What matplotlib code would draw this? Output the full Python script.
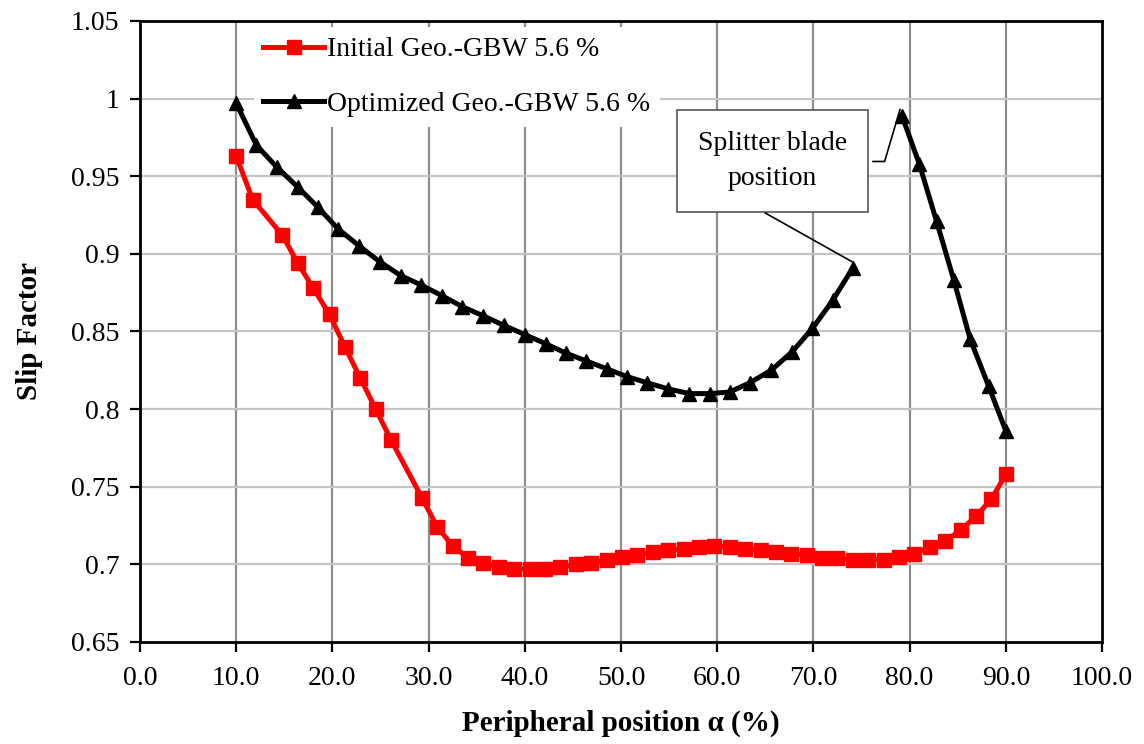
import matplotlib.pyplot as plt
import numpy as np

plt.rcParams["font.family"] = ["Liberation Serif", "DejaVu Serif"]

# Slip factor along the periphery, initial geometry
initial_pos = [
    10.0, 11.7, 14.8, 16.4, 18.0, 19.7, 21.3, 22.9, 24.5, 26.1,
    29.3, 30.9, 32.5, 34.1, 35.7, 37.3, 38.9, 40.5, 42.1, 43.7,
    45.3, 46.9, 48.5, 50.1, 51.7, 53.3, 54.9, 56.5, 58.1, 59.7,
    61.3, 62.9, 64.5, 66.1, 67.7, 69.3, 70.9, 72.5, 74.1, 75.7,
    77.3, 78.9, 80.5, 82.1, 83.7, 85.3, 86.9, 88.5, 90.0,
]
initial_slip = [
    0.963, 0.935, 0.912, 0.894, 0.878, 0.861, 0.840, 0.820, 0.800, 0.780,
    0.743, 0.724, 0.712, 0.704, 0.701, 0.698, 0.697, 0.697, 0.697, 0.698,
    0.700, 0.701, 0.703, 0.705, 0.706, 0.708, 0.709, 0.710, 0.711, 0.712,
    0.711, 0.710, 0.709, 0.708, 0.707, 0.706, 0.704, 0.704, 0.703, 0.703,
    0.703, 0.705, 0.707, 0.711, 0.715, 0.722, 0.731, 0.742, 0.758,
]

# Optimized geometry: main blade up to the splitter, then the splitter passage
optimized_pos = [
    10.0, 12.1, 14.2, 16.4, 18.5, 20.6, 22.8, 24.9, 27.1, 29.2,
    31.4, 33.5, 35.7, 37.8, 40.0, 42.2, 44.3, 46.4, 48.5, 50.6,
    52.7, 54.9, 57.1, 59.2, 61.3, 63.4, 65.6, 67.8, 69.9, 72.0,
    74.1, np.nan, 79.2, 81.0, 82.8, 84.6, 86.3, 88.2, 90.0,
]
optimized_slip = [
    0.997, 0.970, 0.956, 0.943, 0.930, 0.916, 0.905, 0.895, 0.886, 0.880,
    0.873, 0.866, 0.860, 0.854, 0.848, 0.842, 0.836, 0.831, 0.826, 0.821,
    0.817, 0.813, 0.810, 0.810, 0.811, 0.817, 0.825, 0.837, 0.852, 0.870,
    0.891, np.nan, 0.989, 0.958, 0.921, 0.883, 0.845, 0.815, 0.786,
]

x_ticks = np.arange(0, 101, 10)
y_ticks = [0.65, 0.7, 0.75, 0.8, 0.85, 0.9, 0.95, 1, 1.05]
y_tick_labels = ["0.65", "0.7", "0.75", "0.8", "0.85", "0.9", "0.95", "1", "1.05"]

fig = plt.figure(figsize=(11.44, 7.44), dpi=100)
ax = fig.add_axes([0.1224, 0.1371, 0.8409, 0.8347])

for v in x_ticks[1:-1]:
    ax.axvline(v, color="#8c8c8c", lw=1.6, zorder=1)
for v in y_ticks[1:-1]:
    ax.axhline(v, color="#c4c4c4", lw=1.6, zorder=1)

ax.plot(
    initial_pos, initial_slip,
    color="#ff0000", lw=3.6, marker="s", markersize=10,
    label="Initial Geo.-GBW 5.6 %", zorder=3,
)
ax.plot(
    optimized_pos, optimized_slip,
    color="black", lw=3.6, marker="^", markersize=10,
    label="Optimized Geo.-GBW 5.6 %", zorder=4,
)

ax.set_xlim(0, 100)
ax.set_ylim(0.65, 1.05)
ax.set_xticks(x_ticks)
ax.set_xticklabels([f"{v:.1f}" for v in x_ticks])
ax.set_yticks(y_ticks)
ax.set_yticklabels(y_tick_labels)
ax.tick_params(axis="both", labelsize=20, length=7, width=1.6, direction="out")
ax.tick_params(axis="x", pad=10)
ax.tick_params(axis="y", pad=8)

for spine in ax.spines.values():
    spine.set_linewidth(2)
    spine.set_color("black")

ax.set_xlabel("Peripheral position α (%)", fontsize=21, fontweight="bold", labelpad=14)
ax.set_ylabel("Slip Factor", fontsize=21, fontweight="bold", labelpad=20)

leg = ax.legend(
    loc="upper left", bbox_to_anchor=(0.118, 0.99),
    fontsize=20, frameon=True, fancybox=False,
    handlelength=2.2, handletextpad=0.1, labelspacing=1.05,
    borderpad=0.35, borderaxespad=0,
)
leg.get_frame().set_edgecolor("none")
leg.get_frame().set_facecolor("white")
leg.get_frame().set_alpha(1)
leg.set_zorder(2)

# Callout box with leader lines to the splitter blade position
ax.text(
    65.75, 0.9598, "Splitter blade\nposition",
    ha="center", va="center", fontsize=20, linespacing=1.55,
    bbox=dict(boxstyle="square,pad=0.75", facecolor="white",
              edgecolor="#555555", lw=1.2),
    zorder=5,
)
ax.plot([76.2, 77.4, 79.0], [0.9595, 0.9595, 0.993], color="black", lw=1.2, zorder=5)
ax.plot([65.0, 74.0], [0.9263, 0.895], color="black", lw=1.2, zorder=5)

fig.savefig("out.png", dpi=100)
